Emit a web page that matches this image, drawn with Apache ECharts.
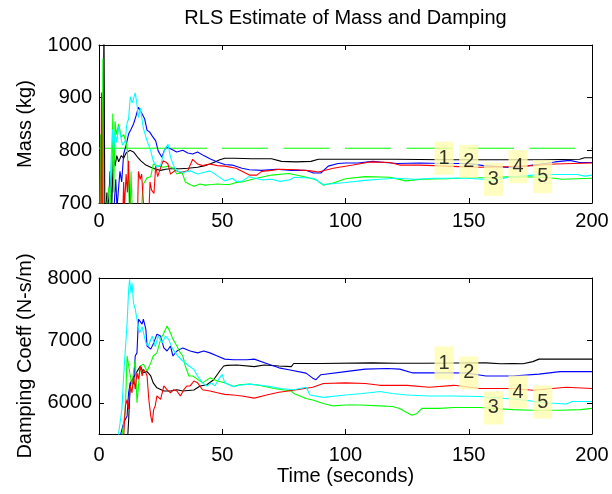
<!DOCTYPE html>
<html>
<head>
<meta charset="utf-8">
<script src="https://cdn.jsdelivr.net/npm/echarts@6/dist/echarts.min.js"></script>
<style>html,body{margin:0;padding:0;background:#fff}#c{width:612px;height:494px}</style>
</head>
<body>
<div id="c"></div>
<script>
// ---- data (time in seconds) ----
var xTicks = [0, 50, 100, 150, 200];
var massTicks = [700, 800, 900, 1000];
var dampTicks = [6000, 7000, 8000];
var seriesNames = ['1', '2', '3', '4', '5'];
var seriesColors = ['#000000', '#0000ff', '#00ff00', '#ff0000', '#00ffff'];
var massReference = [[0, 804], [200, 804]];

var mass1 = [[1.6,650],[2.0,1050],[2.4,650],[3.2,720],[3.8,690],[4.5,760],[5.2,700],[5.8,790],[6.5,770],[7.2,790],[8,778],[9,790],[10,785],[11,795],[12.5,800],[14,797],[16,785],[17,780],[19,772],[21,768],[23,764],[25,762],[27,764],[29,765],[33,765],[36,766],[40,768],[43,771],[45,774],[47,778],[49,782],[51,785],[55,785],[62,784],[70,784],[74,779],[80,778],[86,779],[89,783],[100,783],[120,783],[140,782],[160,782],[180,782],[195,783],[197,786],[200,786]];
var mass2 = [[0.5,650],[5.5,660],[6.2,700],[6.8,745],[7.3,690],[7.8,720],[8.5,760],[9.2,740],[10,793],[11,810],[12,831],[13,840],[14,850],[15,865],[16,882],[16.8,875],[17.5,878],[18.5,860],[19.5,838],[20.5,835],[21.5,828],[23,818],[24,799],[25.5,787],[26.5,800],[27.5,806],[29,803],[31.5,797],[34,800],[36,795],[38,793],[40,797],[42.5,790],[45,784],[48,778],[51,773],[54,772],[58,766],[61,763],[66,762],[72,764],[78,762],[84,762],[87,757],[90,757],[93,770],[97,775],[100,776],[105,776],[111,779],[116,777],[121,775],[130,776],[140,775],[150,775],[156,771],[162,769],[168,767],[172,769],[176,772],[181,775],[185,778],[191,781],[195,777],[200,777]];
var mass3 = [[0.3,650],[0.6,830],[0.9,700],[1.1,650],[1.4,650],[1.6,975],[1.9,650],[3,690],[4,730],[4.6,700],[5.2,760],[5.6,870],[6,720],[6.5,855],[7,830],[8,850],[9,825],[10,830],[11,815],[11.5,800],[12,740],[12.5,660],[13,760],[13.5,680],[14,650],[17,650],[17.5,710],[18,736],[19.5,748],[21,750],[22,774],[24,770],[26,768],[28.3,770],[30,766],[31.6,755],[33.7,758],[35,740],[36.5,736],[38.5,732],[41,736],[43,734],[46,735],[48,736],[51,735],[53,735],[55.6,739],[58,740],[63,746],[70,753],[77,756],[80,753],[85,748],[88,744],[91,734],[95,738],[100,746],[108,750],[118,749],[124.5,742],[131,745],[141,746],[149,748],[157,748],[168,750],[181,749],[188,745],[200,747]];
var mass4 = [[0.5,650],[0.8,700],[1.0,910],[1.2,820],[1.4,650],[9.5,650],[10,740],[10.3,690],[11,755],[11.5,720],[12,780],[12.5,700],[13,650],[15.5,650],[16,760],[16.7,745],[17.3,755],[18,700],[19,650],[20,650],[20.7,740],[21.3,725],[22.3,718],[23,770],[23.8,750],[24.5,760],[26,780],[27,778],[28,774],[29,755],[31,762],[33,758],[36,761],[38,783],[40,774],[42,771],[45,774],[48,771],[51,770],[55.6,766],[61,753],[64,753],[66,760],[70,762],[73,764],[80,763],[86,761],[89,759],[95,766],[103,772],[110,778],[118,777],[122,772],[130,772],[136,771],[146,769],[155,768],[166,769],[176,771],[185,774],[200,776]];
var mass5 = [[3.5,650],[4.2,700],[4.8,770],[5.5,840],[6,800],[6.5,835],[7.2,815],[8,845],[8.8,842],[9.5,810],[10.6,817],[11.3,850],[12,860],[12.7,902],[13.5,890],[14,893],[14.7,909],[15.4,887],[16,862],[16.8,880],[18,842],[19.5,818],[21,799],[22,780],[23.5,768],[25,772],[26.5,799],[28,812],[29,787],[30.3,770],[31.6,761],[34,758],[37,761],[40,755],[42.5,758],[45,761],[48,752],[51,742],[54,747],[55.6,741],[58,741],[60.7,750],[66,744],[70,745],[73.5,741],[77.5,744],[79,749],[87,747],[91,735],[100,739],[108,743],[114,745],[120.5,747],[128.5,745],[136,747],[149,747],[156,745],[160,742],[166,749],[176,753],[185,754],[194,754],[197,751],[200,753]];

var damp1 = [[0.5,5000],[11,5000],[12,5700],[12.7,6320],[14,6400],[15.4,6500],[16.8,6590],[18,6480],[19.5,6500],[21,6430],[22,6320],[23.5,6240],[26.3,6190],[29,6190],[31.6,6210],[34,6190],[38.5,6205],[41,6270],[43.8,6290],[46.5,6370],[49,6510],[50.6,6590],[52,6600],[56,6605],[63,6580],[67,6605],[73,6590],[78,6580],[79,6630],[90,6630],[111,6640],[121,6635],[131,6635],[145,6638],[157,6640],[163,6625],[168,6630],[172,6625],[176,6660],[178.5,6700],[190,6700],[200,6700]];
var damp2 = [[0.5,5000],[8,5000],[8.5,5450],[10,5680],[11.4,5790],[12,6160],[12.7,6320],[14,6300],[14.7,6750],[15.4,6800],[16,7340],[17.5,7260],[18,7340],[19,7180],[19.5,6910],[21,6860],[22.2,6960],[23.5,7100],[25,7070],[26.3,6880],[27.6,6830],[29,6910],[30,6750],[31.6,6830],[34,6880],[37,6830],[40,6800],[42.5,6830],[45,6800],[48,6750],[51,6700],[54.5,6690],[60,6690],[63,6700],[68,6630],[73,6560],[77,6530],[84,6475],[86.7,6395],[88,6370],[90,6450],[100,6500],[108,6540],[117,6550],[122,6540],[127,6480],[141,6480],[149,6478],[157,6430],[168,6430],[178.5,6460],[187,6500],[200,6500]];
var damp3 = [[0.5,5000],[9,5000],[9.3,5450],[10.7,5900],[11.4,6750],[12,6720],[12.7,6430],[13.4,6270],[14,6480],[14.7,6690],[15.4,6000],[16,6270],[16.8,6590],[18,6620],[19.5,6510],[21,6640],[22,6750],[23.5,6800],[25,7017],[26.3,7120],[27.6,7230],[28.3,7260],[29,7120],[30,7017],[31.6,6910],[33,6800],[34,6750],[35,6590],[36.5,6430],[38,6430],[40,6375],[42,6320],[45,6400],[48,6350],[51,6320],[54.5,6260],[57,6290],[61,6300],[65,6280],[71,6230],[78,6190],[79,6150],[84,6070],[86.7,6044],[91,5990],[95,5950],[100,5965],[106,5965],[114,5950],[119,5940],[122,5910],[125,5840],[127,5800],[129,5830],[131,5910],[138,5910],[144,5925],[154.5,5925],[168,5890],[176,5880],[187,5880],[195.5,5890],[200,5910]];
var damp4 = [[0.5,5000],[9.5,5000],[10,5450],[10.7,5950],[11.4,6050],[12,5900],[12.7,6270],[13.4,6160],[14,6430],[14.7,6220],[15.4,6480],[16,6380],[16.8,6590],[17.5,6430],[18,6540],[19,6480],[19.5,6430],[20.2,6055],[21,5790],[21.6,5680],[22.2,5895],[22.8,5950],[23.5,6110],[25,6055],[26.3,6270],[27.6,6210],[29,6160],[30.3,6210],[31.6,6190],[33,6110],[34.4,6210],[35.7,6270],[37,6270],[38.5,6350],[40,6320],[42,6210],[45,6190],[48,6160],[51,6135],[54.5,6125],[58,6110],[63,6075],[68,6125],[73,6170],[79,6200],[86.7,6250],[91,6310],[100,6320],[108,6310],[114,6280],[125,6280],[134,6250],[144,6280],[154.5,6230],[168,6230],[176,6200],[184,6230],[189.5,6250],[200,6230]];
var damp5 = [[0.5,5000],[7.5,5000],[8,5520],[9.3,5900],[10,6430],[10.7,6860],[11.4,7280],[12,7790],[12.4,7980],[13,7760],[13.4,7920],[14,7600],[14.7,7500],[15.4,7340],[16.5,7120],[17.5,7220],[19,6960],[20,6910],[21.6,7070],[22.8,6900],[24,7070],[25.6,6960],[27,7070],[28.3,7017],[29.6,6880],[31,6800],[32,6750],[34,6670],[36.5,6590],[38.5,6535],[40,6430],[42,6320],[43.8,6270],[45.5,6320],[47,6270],[48.5,6375],[50,6455],[51,6320],[54.5,6258],[57,6280],[61,6300],[65.5,6280],[69.6,6260],[73.6,6230],[79,6210],[84,6250],[85.6,6125],[91,6087],[100,6125],[107,6150],[114,6180],[119,6150],[125,6125],[134,6110],[144,6110],[154.5,6100],[165,6070],[172,6044],[181,6000],[189.5,5980],[192,6020],[200,6020]];

var labelT = [140, 150, 160, 170, 180];
var labelMass = [785, 779, 745, 769, 750];
var labelDamp = [6638, 6478, 5917, 6173, 6013];

// ---- chart ----
var FONT = '"Liberation Sans", Arial, sans-serif';
var massSeries = [mass1, mass2, mass3, mass4, mass5];
var dampSeries = [damp1, damp2, damp3, damp4, damp5];
function plain(v) { return String(v); }

function lineSeries(data, color, xi, yi) {
  return { type: 'line', xAxisIndex: xi, yAxisIndex: yi, data: data, showSymbol: false, symbol: 'none',
    clip: true, lineStyle: { color: color, width: 1.1 }, itemStyle: { color: color }, z: 3 };
}
function labelSeries(ys, xi, yi) {
  return { type: 'scatter', xAxisIndex: xi, yAxisIndex: yi, symbolSize: 0.1, z: 20,
    itemStyle: { color: 'rgba(0,0,0,0)' },
    data: labelT.map(function (t, i) { return [t, ys[i], seriesNames[i]]; }),
    label: { show: true, position: 'inside', formatter: function (p) { return p.value[2]; },
      color: '#000', fontSize: 20, fontFamily: FONT, lineHeight: 20,
      backgroundColor: '#fffcb0', padding: [7, 4, 6, 4] } };
}
function xAx(gi, pos, withLabels, extra) {
  var a = { type: 'value', gridIndex: gi, position: pos, min: 0, max: 200, interval: 50,
    axisLine: { show: true, onZero: false, lineStyle: { color: '#000', width: 1 } },
    axisTick: { show: true, inside: true, length: 5, lineStyle: { color: '#000' } },
    axisLabel: { show: withLabels, color: '#000', fontSize: 20, fontFamily: FONT, margin: 8, formatter: plain },
    splitLine: { show: false } };
  return Object.assign(a, extra || {});
}
function yAx(gi, pos, withLabels, mn, mx, ticks, extra) {
  var a = { type: 'value', gridIndex: gi, position: pos, min: mn, max: mx,
    axisLine: { show: true, onZero: false, lineStyle: { color: '#000', width: 1 } },
    axisTick: { show: true, inside: true, length: 5, customValues: ticks, lineStyle: { color: '#000' } },
    axisLabel: { show: withLabels, customValues: ticks, color: '#000', fontSize: 20, fontFamily: FONT, margin: 7, formatter: plain },
    splitLine: { show: false } };
  return Object.assign(a, extra || {});
}

var series = [];
// reference mass line (dashed green)
series.push({ type: 'line', xAxisIndex: 0, yAxisIndex: 0, data: massReference, symbol: 'none', z: 2,
  lineStyle: { color: '#00ff00', width: 1,
    type: [108, 15, 46, 15.5, 46, 15.5, 46, 15.5, 46, 15.5, 46, 15.5, 46, 15.5, 46, 15.5] } });
massSeries.forEach(function (d, i) { series.push(lineSeries(d, seriesColors[i], 0, 0)); });
dampSeries.forEach(function (d, i) { series.push(lineSeries(d, seriesColors[i], 2, 2)); });
series.push(labelSeries(labelMass, 0, 0));
series.push(labelSeries(labelDamp, 2, 2));

var nameStyle = { color: '#000', fontSize: 20, fontFamily: FONT };
var option = {
  animation: false,
  backgroundColor: '#fff',
  grid: [
    { left: 99, top: 45, width: 493, height: 158 },
    { left: 99, top: 278, width: 493, height: 156 }
  ],
  xAxis: [
    xAx(0, 'bottom', true),
    xAx(0, 'top', false),
    xAx(1, 'bottom', true, { name: 'Time (seconds)', nameLocation: 'middle', nameGap: 32, nameTextStyle: nameStyle,
      axisLabel: { show: true, color: '#000', fontSize: 20, fontFamily: FONT, margin: 11, formatter: plain } }),
    xAx(1, 'top', false)
  ],
  yAxis: [
    yAx(0, 'left', true, 700, 1000, massTicks, { name: 'Mass (kg)', nameLocation: 'middle', nameGap: 64, nameTextStyle: nameStyle }),
    yAx(0, 'right', false, 700, 1000, massTicks),
    yAx(1, 'left', true, 5500, 8000, dampTicks, { name: 'Damping Coeff (N-s/m)', nameLocation: 'middle', nameGap: 64, nameTextStyle: nameStyle }),
    yAx(1, 'right', false, 5500, 8000, dampTicks)
  ],
  graphic: [
    { type: 'text', x: 345.5, y: 8, style: { text: 'RLS Estimate of Mass and Damping', fill: '#000',
      font: '20px ' + FONT, textAlign: 'center', textVerticalAlign: 'top' } }
  ],
  series: series
};
var chart = echarts.init(document.getElementById('c'), null, { renderer: 'canvas' });
chart.setOption(option);
</script>
</body>
</html>
